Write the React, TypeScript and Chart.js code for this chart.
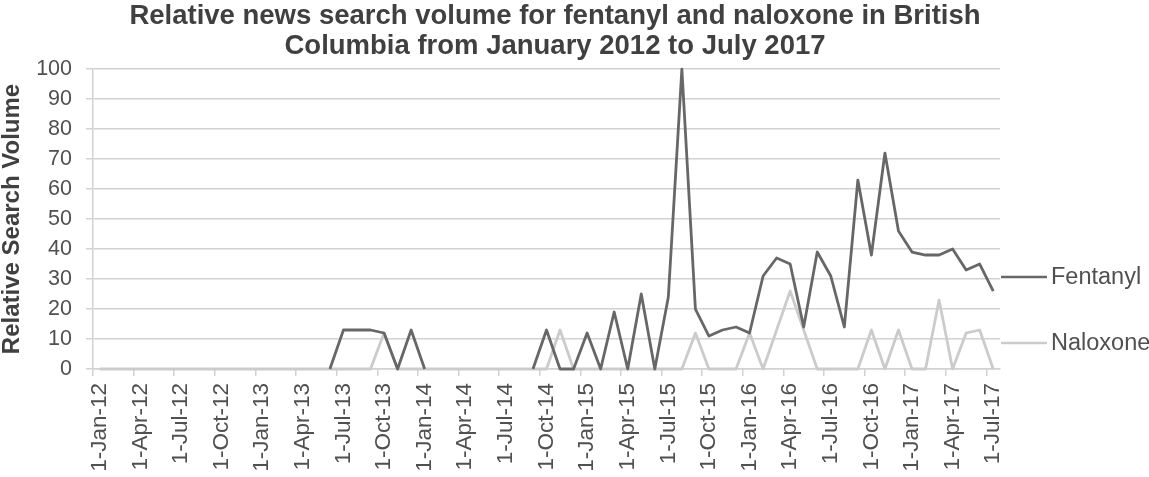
import React, { useEffect, useRef } from "react";
import { Chart, registerables } from "chart.js";

Chart.register(...registerables);

const months = [
  "1-Jan-12", "1-Feb-12", "1-Mar-12", "1-Apr-12", "1-May-12", "1-Jun-12", "1-Jul-12", "1-Aug-12", "1-Sep-12", "1-Oct-12", "1-Nov-12", "1-Dec-12",
  "1-Jan-13", "1-Feb-13", "1-Mar-13", "1-Apr-13", "1-May-13", "1-Jun-13", "1-Jul-13", "1-Aug-13", "1-Sep-13", "1-Oct-13", "1-Nov-13", "1-Dec-13",
  "1-Jan-14", "1-Feb-14", "1-Mar-14", "1-Apr-14", "1-May-14", "1-Jun-14", "1-Jul-14", "1-Aug-14", "1-Sep-14", "1-Oct-14", "1-Nov-14", "1-Dec-14",
  "1-Jan-15", "1-Feb-15", "1-Mar-15", "1-Apr-15", "1-May-15", "1-Jun-15", "1-Jul-15", "1-Aug-15", "1-Sep-15", "1-Oct-15", "1-Nov-15", "1-Dec-15",
  "1-Jan-16", "1-Feb-16", "1-Mar-16", "1-Apr-16", "1-May-16", "1-Jun-16", "1-Jul-16", "1-Aug-16", "1-Sep-16", "1-Oct-16", "1-Nov-16", "1-Dec-16",
  "1-Jan-17", "1-Feb-17", "1-Mar-17", "1-Apr-17", "1-May-17", "1-Jun-17", "1-Jul-17",
];

// null = no data point (gap in the line)
const fentanyl = [
  null, null, null, null, null, null, null, null, null, null, null, null,
  null, null, null, null, null, 0, 13, 13, 13, 12, 0, 13,
  0, null, null, null, null, null, null, null, 0, 13, 0, 0,
  12, 0, 19, 0, 25, 0, 24, 100, 20, 11, 13, 14,
  12, 31, 37, 35, 14, 39, 31, 14, 63, 38, 72, 46,
  39, 38, 38, 40, 33, 35, 26,
];

const naloxone = [
  0, 0, 0, 0, 0, 0, 0, 0, 0, 0, 0, 0,
  0, 0, 0, 0, 0, 0, 0, 0, 0, 12, 0, 0,
  0, 0, 0, 0, 0, 0, 0, 0, 0, 0, 13, 0,
  0, 0, 0, 0, 0, 0, 0, 0, 12, 0, 0, 0,
  12, 0, 13, 26, 13, 0, 0, 0, 0, 13, 0, 13,
  0, 0, 23, 0, 12, 13, 0,
];

const seriesNames = ["Fentanyl", "Naloxone"];
const seriesColors = ["#676767", "#cbcbcb"];
const titleLines = [
  "Relative news search volume for fentanyl and naloxone in British",
  "Columbia from January 2012 to July 2017",
];
const yTitle = "Relative Search Volume";

const FONT = '"Liberation Sans", Arial, sans-serif';
const GRID = "#d2d2d2";
const TEXT = "#505050";

const legendPlugin = {
  id: "sideLegend",
  afterDraw(chart: any) {
    const { ctx, chartArea } = chart;
    const x0 = chartArea.right + 1;
    const ys = [chartArea.bottom - 92, chartArea.bottom - 26];
    ctx.save();
    seriesNames.forEach((name, i) => {
      ctx.strokeStyle = seriesColors[i];
      ctx.lineWidth = 2.6;
      ctx.beginPath();
      ctx.moveTo(x0, ys[i]);
      ctx.lineTo(x0 + 46, ys[i]);
      ctx.stroke();
      ctx.fillStyle = TEXT;
      ctx.font = `23.5px ${FONT}`;
      ctx.textBaseline = "middle";
      ctx.textAlign = "left";
      ctx.fillText(name, x0 + 50, ys[i] + 1);
    });
    ctx.restore();
  },
};

export default function App() {
  const ref = useRef<HTMLCanvasElement>(null);

  useEffect(() => {
    if (!ref.current) return;
    Chart.defaults.font.family = FONT;
    const chart = new Chart(ref.current, {
      type: "line",
      data: {
        labels: months,
        datasets: [
          {
            label: seriesNames[0],
            data: fentanyl,
            borderColor: seriesColors[0],
            backgroundColor: seriesColors[0],
            borderWidth: 2.8,
            pointRadius: 0,
            tension: 0,
            spanGaps: false,
            borderJoinStyle: "round",
            clip: false,
          },
          {
            label: seriesNames[1],
            data: naloxone,
            borderColor: seriesColors[1],
            backgroundColor: seriesColors[1],
            borderWidth: 2.8,
            pointRadius: 0,
            tension: 0,
            borderJoinStyle: "round",
            clip: false,
          },
        ],
      },
      options: {
        animation: false,
        responsive: false,
        layout: { padding: { left: 0, right: 39, top: 0, bottom: 0 } },
        plugins: {
          legend: { display: false },
          tooltip: { enabled: false },
          title: {
            display: true,
            text: titleLines,
            color: "#404040",
            font: { size: 27.5, weight: "bold", family: FONT, lineHeight: 1.11 },
            padding: { top: 1, bottom: 7 },
            fullSize: true,
          },
        },
        scales: {
          x: {
            type: "category",
            offset: true,
            grid: {
              offset: true,
              drawOnChartArea: false,
              drawTicks: true,
              tickLength: 7,
              lineWidth: 1.5,
              color: (c: any) => (c.index !== undefined && c.index % 3 === 0 ? GRID : "rgba(0,0,0,0)"),
            },
            border: { display: true, color: GRID, width: 1.5 },
            ticks: {
              autoSkip: false,
              maxRotation: 90,
              minRotation: 90,
              padding: 7,
              color: TEXT,
              font: { size: 22.5, family: FONT },
              callback: (_v: any, i: number) => (i % 3 === 0 ? months[i] : ""),
            },
            afterFit: (s: any) => {
              s.height = 108;
            },
          },
          y: {
            type: "linear",
            position: "left",
            min: 0,
            max: 100,
            ticks: {
              stepSize: 10,
              padding: 14,
              color: TEXT,
              font: { size: 21.5, family: FONT },
            },
            grid: {
              color: GRID,
              lineWidth: 1.5,
              drawTicks: true,
              tickLength: 7,
            },
            border: { display: true, color: GRID, width: 1.5 },
            title: {
              display: true,
              text: yTitle,
              color: "#404040",
              font: { size: 24, weight: "bold", family: FONT, lineHeight: 1 },
              padding: 0,
            },
            afterFit: (s: any) => {
              s.width = 93;
            },
          },
          yPad: {
            type: "linear",
            position: "right",
            display: true,
            grid: { display: false, drawTicks: false },
            border: { display: false },
            ticks: { display: false },
            afterFit: (s: any) => {
              s.width = 110;
            },
          },
        },
      },
      plugins: [legendPlugin],
    } as any);
    return () => chart.destroy();
  }, []);

  return (
    <div style={{ position: "absolute", left: 0, top: 0, width: 1149, height: 477 }}>
      <canvas ref={ref} width={1149} height={477} style={{ display: "block" }} />
    </div>
  );
}
